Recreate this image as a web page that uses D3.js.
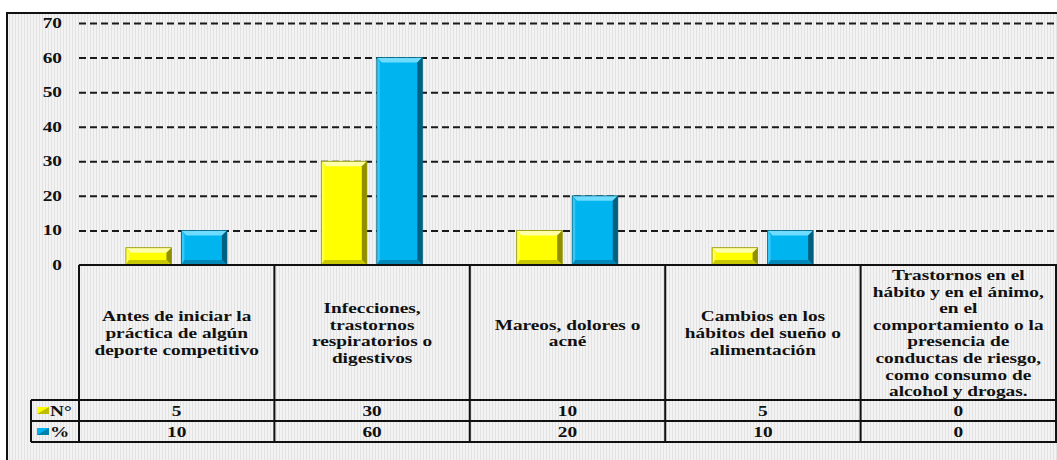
<!DOCTYPE html>
<html>
<head>
<meta charset="utf-8">
<script src="https://cdn.jsdelivr.net/npm/d3@7/dist/d3.min.js"></script>
<style>
  html, body { margin: 0; padding: 0; background: #ffffff; }
  svg { display: block; }
  svg text { font-family: "Liberation Serif", "Times New Roman", Times, serif !important; font-weight: bold; fill: #111; }
</style>
</head>
<body>
<div id="chart"></div>
<script>
// ---- data ----
const categories = [
  "Antes de iniciar la práctica de algún deporte competitivo",
  "Infecciones, trastornos respiratorios o digestivos",
  "Mareos, dolores o acné",
  "Cambios en los hábitos del sueño o alimentación",
  "Trastornos en el hábito y en el ánimo, en el comportamiento o la presencia de conductas de riesgo, como consumo de alcohol y drogas."
];
const categoryLines = [
  ["Antes de iniciar la", "práctica de algún", "deporte competitivo"],
  ["Infecciones,", "trastornos", "respiratorios o", "digestivos"],
  ["Mareos, dolores o", "acné"],
  ["Cambios en los", "hábitos del sueño o", "alimentación"],
  ["Trastornos en el", "hábito y en el ánimo,", "en el", "comportamiento o la", "presencia de", "conductas de riesgo,", "como consumo de", "alcohol y drogas."]
];
const seriesNames = ["N°", "%"];
const valuesN = [5, 30, 10, 5, 0];
const valuesPct = [10, 60, 20, 10, 0];
const yTicks = [0, 10, 20, 30, 40, 50, 60, 70];

// ---- styling ----
const W = 1057, H = 460;
const FONT = "'Liberation Serif', 'Times New Roman', Times, serif";
const colors = { "N°": "#FFFF00", "%": "#00B4F0" };
const lightC = { "N°": "#FFFFA8", "%": "#6FDCFF" };
const darkC = { "N°": "#8F8F00", "%": "#00607F" };
const midDark = { "N°": "#C8C800", "%": "#0088B8" };
const SX = 1.38; // horizontal text stretch

const svg = d3.select("#chart").append("svg").attr("width", W).attr("height", H)
  .attr("font-family", FONT);

// background stripe pattern
const defs = svg.append("defs");
const pat = defs.append("pattern").attr("id", "stripes").attr("patternUnits", "userSpaceOnUse")
  .attr("width", 3).attr("height", 4);
pat.append("rect").attr("width", 3).attr("height", 4).attr("fill", "#F3F3F3");
pat.append("rect").attr("x", 0).attr("width", 1).attr("height", 4).attr("fill", "#E2E2E2");

svg.append("rect").attr("x", 7).attr("y", 13).attr("width", W + 10).attr("height", H + 10)
  .attr("fill", "url(#stripes)").attr("stroke", "#111").attr("stroke-width", 2);

// scales
const plotL = 79, plotR = 1056, y0 = 265, yTop = 23;
const x = d3.scaleBand().domain(categories).range([plotL, plotR]).padding(0);
const y = d3.scaleLinear().domain([0, 70]).range([y0, yTop]);
const xSub = d3.scaleBand().domain(seriesNames)
  .range([x.bandwidth() * 0.24, x.bandwidth() * 0.757]).paddingInner(0.18).paddingOuter(0);

// gridlines + tick labels
const yAxis = d3.axisLeft(y).tickValues(yTicks).tickSize(0).tickPadding(0).tickFormat(d3.format("d"));
const gAxis = svg.append("g").attr("transform", `translate(${plotL},0)`).call(yAxis)
  .attr("font-family", FONT);
gAxis.select(".domain").remove();
gAxis.selectAll(".tick text").remove();
gAxis.selectAll(".tick").each(function(d) {
  const t = d3.select(this);
  if (d > 0) {
    t.append("line").attr("x1", 0).attr("x2", plotR - plotL + 5)
      .attr("stroke", "#1a1a1a").attr("stroke-width", 2).attr("stroke-dasharray", "7,4");
  }
  t.append("g").attr("transform", `translate(-17,0) scale(${SX},1)`)
    .append("text").attr("text-anchor", "end").attr("dominant-baseline", "central")
    .attr("font-family", FONT).attr("font-weight", "bold")
    .attr("font-size", 14).text(d);
});

// bars
const seriesData = [
  { name: "N°", values: valuesN },
  { name: "%", values: valuesPct }
];
const bars = svg.append("g");
seriesData.forEach(s => {
  s.values.forEach((v, i) => {
    const bx = x(categories[i]) + xSub(s.name);
    const bw = xSub.bandwidth();
    const by = y(v);
    const bh = y(0) - y(v);
    if (bh <= 0) return;
    const b = Math.min(5, bh / 3);
    const g = bars.append("g");
    g.append("rect").attr("x", bx).attr("y", by).attr("width", bw).attr("height", bh).attr("fill", colors[s.name]);
    g.append("polygon").attr("points", [[bx, by], [bx + bw, by], [bx + bw - b, by + b], [bx + b, by + b]].join(" "))
      .attr("fill", lightC[s.name]);
    g.append("polygon").attr("points", [[bx, by], [bx + b * 0.6, by + b], [bx + b * 0.6, by + bh - b], [bx, by + bh]].join(" "))
      .attr("fill", lightC[s.name]).attr("opacity", 0.5);
    g.append("polygon").attr("points", [[bx + bw, by], [bx + bw, by + bh], [bx + bw - b, by + bh - b], [bx + bw - b, by + b]].join(" "))
      .attr("fill", darkC[s.name]);
    g.append("polygon").attr("points", [[bx, by + bh], [bx + bw, by + bh], [bx + bw - b, by + bh - b], [bx + b * 0.6, by + bh - b]].join(" "))
      .attr("fill", midDark[s.name]);
    g.append("rect").attr("x", bx).attr("y", by).attr("width", bw).attr("height", bh)
      .attr("fill", "none").attr("stroke", darkC[s.name]).attr("stroke-width", 0.8);
  });
});

// data table
const rowHeadTop = y0, rowHeadBot = 400, row1Bot = 421, row2Bot = 442, legL = 31;
const tbl = svg.append("g").attr("fill", "none").attr("stroke", "#111").attr("stroke-width", 2);
tbl.append("line").attr("x1", plotL).attr("x2", plotR + 2).attr("y1", rowHeadTop).attr("y2", rowHeadTop);
[rowHeadBot, row1Bot, row2Bot].forEach(yy => {
  tbl.append("line").attr("x1", legL).attr("x2", plotR + 2).attr("y1", yy).attr("y2", yy);
});
tbl.append("line").attr("x1", legL).attr("x2", legL).attr("y1", rowHeadBot).attr("y2", row2Bot);
categories.forEach(c => {
  tbl.append("line").attr("x1", x(c)).attr("x2", x(c)).attr("y1", rowHeadTop).attr("y2", row2Bot);
});
tbl.append("line").attr("x1", plotR).attr("x2", plotR).attr("y1", rowHeadTop).attr("y2", row2Bot);

// category labels
const lineH = 16.6;
categories.forEach((c, i) => {
  const cx = x(c) + x.bandwidth() / 2;
  const cy = (rowHeadTop + rowHeadBot) / 2 + 1;
  const lines = categoryLines[i];
  const t = svg.append("g").attr("transform", `translate(${cx},${cy}) scale(${SX},1)`)
    .append("text").attr("text-anchor", "middle").attr("font-size", 14)
    .attr("font-family", FONT).attr("font-weight", "bold");
  lines.forEach((ln, k) => {
    t.append("tspan").attr("x", 0).attr("y", (k - (lines.length - 1) / 2) * lineH)
      .attr("dominant-baseline", "central").text(ln);
  });
});

// value rows + legend keys
const rowCenters = [(rowHeadBot + row1Bot) / 2, (row1Bot + row2Bot) / 2];
seriesData.forEach((s, r) => {
  s.values.forEach((v, i) => {
    const cx = x(categories[i]) + x.bandwidth() / 2;
    svg.append("g").attr("transform", `translate(${cx},${rowCenters[r] + 0.5}) scale(${SX},1)`)
      .append("text").attr("text-anchor", "middle").attr("dominant-baseline", "central")
      .attr("font-family", FONT).attr("font-weight", "bold")
      .attr("font-size", 14).text(v);
  });
  const ky = rowCenters[r];
  svg.append("rect").attr("x", 37).attr("y", ky - 3.5).attr("width", 12).attr("height", 7)
    .attr("fill", colors[s.name]);
  svg.append("polygon").attr("points", [[37, ky + 3.5], [49, ky - 3.5], [49, ky + 3.5]].join(" "))
    .attr("fill", darkC[s.name]).attr("opacity", 0.6);
  svg.append("g").attr("transform", `translate(50,${ky + 0.5}) scale(${SX},1)`)
    .append("text").attr("dominant-baseline", "central")
    .attr("font-family", FONT).attr("font-weight", "bold")
    .attr("font-size", 14).text(s.name);
});
</script>
</body>
</html>
